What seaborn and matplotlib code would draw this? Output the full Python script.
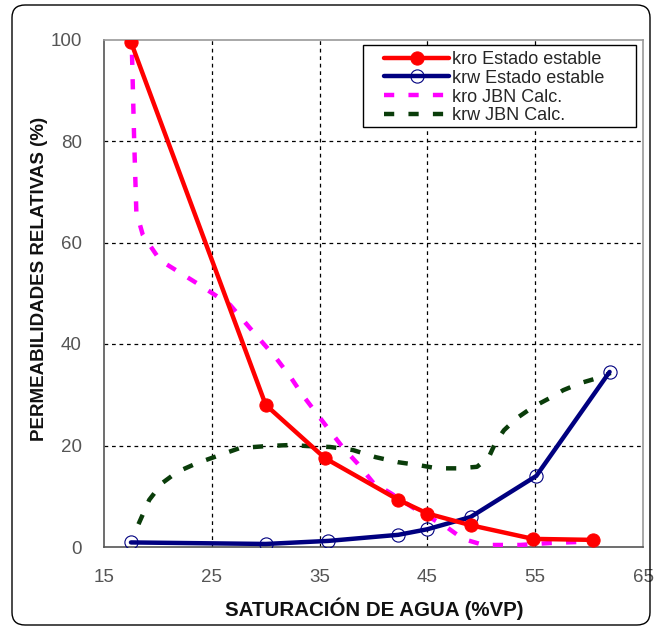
import matplotlib
matplotlib.use("Agg")
import matplotlib.pyplot as plt
from matplotlib.patches import FancyBboxPatch, Rectangle
import seaborn as sns
import pandas as pd

# kro / krw steady state (markers)
kro_x = [17.5, 30.0, 35.5, 42.3, 45.0, 49.0, 54.8, 60.4]
kro_y = [99.5, 28.0, 17.5, 9.3, 6.6, 4.3, 1.6, 1.4]
krw_x = [17.5, 30.0, 35.8, 42.3, 45.0, 49.0, 55.1, 61.9]
krw_y = [0.9, 0.6, 1.2, 2.4, 3.5, 5.9, 14.0, 34.5]

# JBN calculated curves
jbn_kro_x = [17.6, 17.8, 18.0, 18.6, 20.2, 23.9, 26.7, 29.0, 30.9, 32.3, 33.4, 35.7,
             37.2, 38.5, 40.0, 41.6, 43.7, 46.8, 48.3, 50.2, 53.6, 56.5, 59.2]
jbn_kro_y = [97.0, 80.0, 66.0, 61.5, 56.5, 51.6, 47.7, 42.0, 37.4, 33.5, 30.0, 23.6,
             19.5, 16.5, 12.6, 10.6, 7.7, 3.9, 1.6, 0.4, 0.4, 0.8, 1.0]
jbn_krw_x = [18.2, 19.2, 20.4, 21.8, 23.6, 25.6, 27.6, 30.2, 32.3, 33.8, 36.0, 38.1,
             40.2, 42.3, 44.3, 45.9, 47.9, 49.6, 50.7, 51.3, 52.1, 53.3, 54.8, 56.4,
             57.6, 59.2, 60.8, 62.0]
jbn_krw_y = [4.5, 9.3, 12.6, 14.8, 16.5, 18.0, 19.5, 19.9, 20.1, 19.9, 19.7, 19.1,
             17.7, 16.7, 16.1, 15.5, 15.5, 15.8, 17.7, 20.5, 23.0, 25.4, 27.6, 29.4,
             30.9, 32.3, 33.3, 34.3]

labels = ["kro Estado estable", "krw Estado estable", "kro JBN Calc.", "krw JBN Calc."]

sns.set_style("white")
plt.rcParams['font.family'] = ['Liberation Sans', 'DejaVu Sans']

W, H = 656, 630
fig = plt.figure(figsize=(W / 100, H / 100), dpi=100)
ax = fig.add_axes([104 / W, 1 - 547 / H, 539 / W, 507.5 / H])

df_kro = pd.DataFrame({"x": kro_x, "y": kro_y})
df_krw = pd.DataFrame({"x": krw_x, "y": krw_y})
df_jkro = pd.DataFrame({"x": jbn_kro_x, "y": jbn_kro_y})
df_jkrw = pd.DataFrame({"x": jbn_krw_x, "y": jbn_krw_y})

dash = [2.3, 3.2]
sns.lineplot(data=df_jkrw, x="x", y="y", ax=ax, sort=False, estimator=None,
             color="#0a3d0a", lw=3.2, label=labels[3], zorder=2)
ax.lines[-1].set_dashes(dash)
sns.lineplot(data=df_jkro, x="x", y="y", ax=ax, sort=False, estimator=None,
             color="#ff00ff", lw=3.2, label=labels[2], zorder=3)
ax.lines[-1].set_dashes(dash)
sns.lineplot(data=df_krw, x="x", y="y", ax=ax, sort=False, estimator=None,
             color="#000080", lw=3.2, marker="o", markersize=9.5,
             markerfacecolor="none", markeredgecolor="#000080", markeredgewidth=0.8,
             label=labels[1], zorder=4)
sns.lineplot(data=df_kro, x="x", y="y", ax=ax, sort=False, estimator=None,
             color="#ff0000", lw=3.2, marker="o", markersize=9.5,
             markeredgecolor="#ff0000", label=labels[0], zorder=5)

ax.set_xlim(15, 65)
ax.set_ylim(0, 100)
ax.set_xticks([15, 25, 35, 45, 55, 65])
ax.set_yticks([0, 20, 40, 60, 80, 100])
ax.tick_params(axis="both", labelsize=13.5, labelcolor="#555555", length=0)
ax.tick_params(axis="x", pad=16)
ax.tick_params(axis="y", pad=16)

for v in [25, 35, 45, 55]:
    ax.axvline(v, color="black", lw=0.9, ls=(0, (3, 3)), zorder=1)
for v in [20, 40, 60, 80]:
    ax.axhline(v, color="black", lw=0.9, ls=(0, (3, 3)), zorder=1)

for s in ["left", "bottom"]:
    ax.spines[s].set_color("#555555")
    ax.spines[s].set_linewidth(1.2)
for s in ["top", "right"]:
    ax.spines[s].set_color("#999999")
    ax.spines[s].set_linewidth(1.2)

ax.set_xlabel("SATURACIÓN DE AGUA (%VP)", fontsize=14.8, fontweight="bold", color="#111111")
ax.set_ylabel("PERMEABILIDADES RELATIVAS (%)", fontsize=13.5, fontweight="bold", color="#111111")
ax.xaxis.set_label_coords((374 - 104) / 539, (547 - 598) / 507.5)
ax.yaxis.set_label_coords((48 - 104) / 539, (547 - 279) / 507.5)

handles, labs = ax.get_legend_handles_labels()
order = [labs.index(l) for l in labels]
leg = ax.legend([handles[i] for i in order], labels, loc="upper left",
                bbox_to_anchor=((384 - 104) / 539, (547 - 51) / 507.5),
                fontsize=13, frameon=False, handlelength=3.6, handletextpad=0.15,
                borderpad=0.0, borderaxespad=0.0, labelspacing=0.1)

# legend box drawn as its own rectangle (wide left margin as in the original)
box = Rectangle(((363 - 104) / 539, (547 - 127) / 507.5), (636 - 363) / 539, 82 / 507.5,
                transform=ax.transAxes, facecolor="white", edgecolor="black", lw=1.0,
                zorder=6)
ax.add_patch(box)
leg.set_zorder(7)

border = FancyBboxPatch((12 / W, 5 / H), 638 / W, 620 / H,
                        boxstyle="round,pad=0,rounding_size=0.02",
                        transform=fig.transFigure, fill=False, edgecolor="black", lw=1.0)
fig.patches.append(border)

fig.savefig("out.png", dpi=100)
